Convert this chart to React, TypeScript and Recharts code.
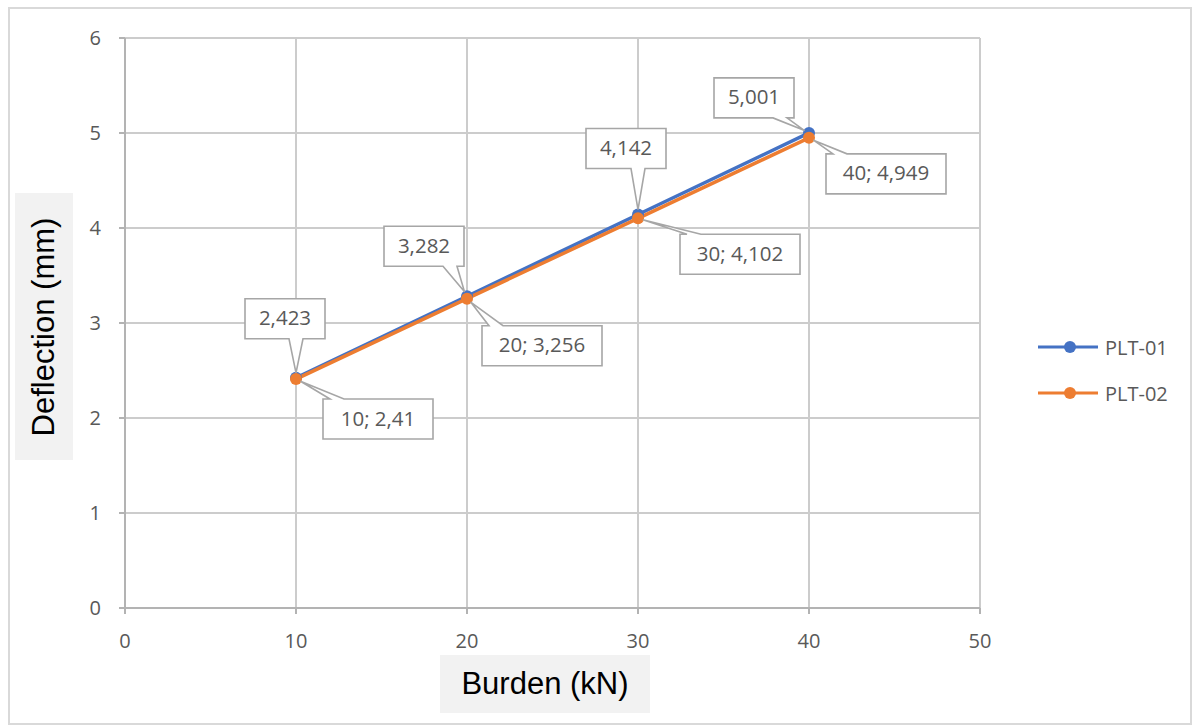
import React from 'react';
import { LineChart, Line, XAxis, YAxis, CartesianGrid, Legend, LabelList } from 'recharts';

const burden = [10, 20, 30, 40];
const plt01 = [2.423, 3.282, 4.142, 5.001];
const plt02 = [2.41, 3.256, 4.102, 4.949];
const xTicks = [0, 10, 20, 30, 40, 50];
const yTicks = [0, 1, 2, 3, 4, 5, 6];
const seriesNames = ['PLT-01', 'PLT-02'];
const seriesColors = ['#4472C4', '#ED7D31'];

const data = burden.map((b, i) => ({ burden: b, plt01: plt01[i], plt02: plt02[i] }));

// layout: label box centre offsets from their point (px)
const offsets01 = [[-11, -59], [-43, -50], [-12, -66], [-55, -35]];
const offsets02 = [[82, 40], [75, 47], [102, 36], [77, 36]];

const fmt = (v: number) => String(v).replace('.', ',');
const FONT = '"Open Sans", "Noto Sans", sans-serif';
const TXT = '#595959';

function calloutPath(px: number, py: number, x0: number, y0: number, x1: number, y1: number) {
  const hw = 7;
  const clamp = (v: number, a: number, b: number) => Math.max(a, Math.min(b, v));
  if (py > y1 || py < y0) {
    const bx = clamp(px, x0 + 14, x1 - 14);
    const dx = px - bx, dy = py - (py > y1 ? y1 : y0);
    const len = Math.hypot(dx, dy);
    const tx = px - (dx / len) * 5, ty = py - (dy / len) * 5;
    if (py > y1) {
      return `M${x0},${y0} L${x1},${y0} L${x1},${y1} L${bx + hw},${y1} L${tx},${ty} L${bx - hw},${y1} L${x0},${y1} Z`;
    }
    return `M${x0},${y0} L${bx - hw},${y0} L${tx},${ty} L${bx + hw},${y0} L${x1},${y0} L${x1},${y1} L${x0},${y1} Z`;
  }
  const by = clamp(py, y0 + 10, y1 - 10);
  if (px < x0) {
    return `M${x0},${y0} L${x1},${y0} L${x1},${y1} L${x0},${y1} L${x0},${by + hw} L${px + 5},${py} L${x0},${by - hw} Z`;
  }
  return `M${x0},${y0} L${x1},${y0} L${x1},${by - hw} L${px - 5},${py} L${x1},${by + hw} L${x1},${y1} L${x0},${y1} Z`;
}

function makeLabel(series: number) {
  return (props: any) => {
    const vb = props.viewBox || {};
    const px = props.x ?? vb.x;
    const py = props.y ?? vb.y;
    const idx = props.index;
    if (px == null || py == null || idx == null) return null;
    const text = series === 0 ? fmt(plt01[idx]) : `${burden[idx]}; ${fmt(plt02[idx])}`;
    const off = series === 0 ? offsets01[idx] : offsets02[idx];
    const cx = px + off[0];
    const cy = py + off[1];
    const w = text.length * 10 + 30;
    const h = 40;
    const x0 = cx - w / 2, x1 = cx + w / 2, y0 = cy - h / 2, y1 = cy + h / 2;
    return (
      <g>
        <path d={calloutPath(px, py, x0, y0, x1, y1)} fill="#ffffff" stroke="#a6a6a6" strokeWidth={1.6} />
        <text x={cx} y={cy + 1} textAnchor="middle" dominantBaseline="middle" fill={TXT} fontSize={20.5} fontFamily={FONT}>
          {text}
        </text>
      </g>
    );
  };
}

const renderLegend = (props: any) => {
  const payload = props.payload || [];
  return (
    <div>
      {payload.map((e: any, i: number) => (
        <div key={i} style={{ display: 'flex', alignItems: 'center', height: 46 }}>
          <svg width={60} height={20}>
            <line x1={0} y1={10} x2={60} y2={10} stroke={e.color} strokeWidth={3} />
            <circle cx={32} cy={10} r={6} fill={e.color} />
          </svg>
          <span style={{ marginLeft: 7, fontFamily: FONT, fontSize: 20, color: TXT }}>{e.value}</span>
        </div>
      ))}
    </div>
  );
};

export default function App() {
  return (
    <div style={{ position: 'absolute', left: 0, top: 0, width: 1199, height: 727, background: '#ffffff' }}>
      <div
        style={{
          position: 'absolute', left: 8, top: 7, width: 1184, height: 718,
          border: '2px solid #d9d9d9', boxSizing: 'border-box',
        }}
      />
      <div style={{ position: 'absolute', left: 0, top: 0 }}>
        <LineChart width={1199} height={727} data={data} margin={{ top: 38, right: 219, bottom: 79, left: 65 }}>
          <CartesianGrid stroke="#cccccc" strokeWidth={2} />
          <XAxis
            dataKey="burden"
            type="number"
            domain={[0, 50]}
            ticks={xTicks}
            height={40}
            stroke="#b3b3b3"
            strokeWidth={2}
            tickSize={6}
            tickMargin={20}
            tick={{ fill: TXT, fontSize: 20, fontFamily: FONT }}
          />
          <YAxis
            type="number"
            domain={[0, 6]}
            ticks={yTicks}
            width={60}
            stroke="#b3b3b3"
            strokeWidth={2}
            tickSize={6}
            tickMargin={18}
            tick={{ fill: TXT, fontSize: 20, fontFamily: FONT }}
          />
          <Legend
            layout="vertical"
            align="center"
            verticalAlign="middle"
            content={renderLegend}
            wrapperStyle={{ left: 1038, top: 324, width: 160 }}
          />
          <Line
            type="linear"
            dataKey="plt01"
            name={seriesNames[0]}
            stroke={seriesColors[0]}
            strokeWidth={3.5}
            dot={{ r: 6, fill: seriesColors[0], stroke: seriesColors[0], strokeWidth: 0 }}
            isAnimationActive={false}
          >
            <LabelList dataKey="plt01" content={makeLabel(0)} />
          </Line>
          <Line
            type="linear"
            dataKey="plt02"
            name={seriesNames[1]}
            stroke={seriesColors[1]}
            strokeWidth={3.5}
            dot={{ r: 6, fill: seriesColors[1], stroke: seriesColors[1], strokeWidth: 0 }}
            isAnimationActive={false}
          >
            <LabelList dataKey="plt02" content={makeLabel(1)} />
          </Line>
        </LineChart>
      </div>
      <div
        style={{
          position: 'absolute', left: 15, top: 193, width: 58, height: 267, background: '#f2f2f2',
          display: 'flex', alignItems: 'center', justifyContent: 'center', overflow: 'visible',
        }}
      >
        <span
          style={{
            transform: 'rotate(-90deg)', whiteSpace: 'nowrap', fontFamily: '"Liberation Sans", Arial, sans-serif',
            fontSize: 31, color: '#000000', display: 'inline-block',
          }}
        >
          Deflection (mm)
        </span>
      </div>
      <div
        style={{
          position: 'absolute', left: 440, top: 655, width: 210, height: 58, background: '#f2f2f2',
          display: 'flex', alignItems: 'center', justifyContent: 'center',
        }}
      >
        <span style={{ whiteSpace: 'nowrap', fontFamily: '"Liberation Sans", Arial, sans-serif', fontSize: 31, color: '#000000' }}>
          Burden (kN)
        </span>
      </div>
    </div>
  );
}
